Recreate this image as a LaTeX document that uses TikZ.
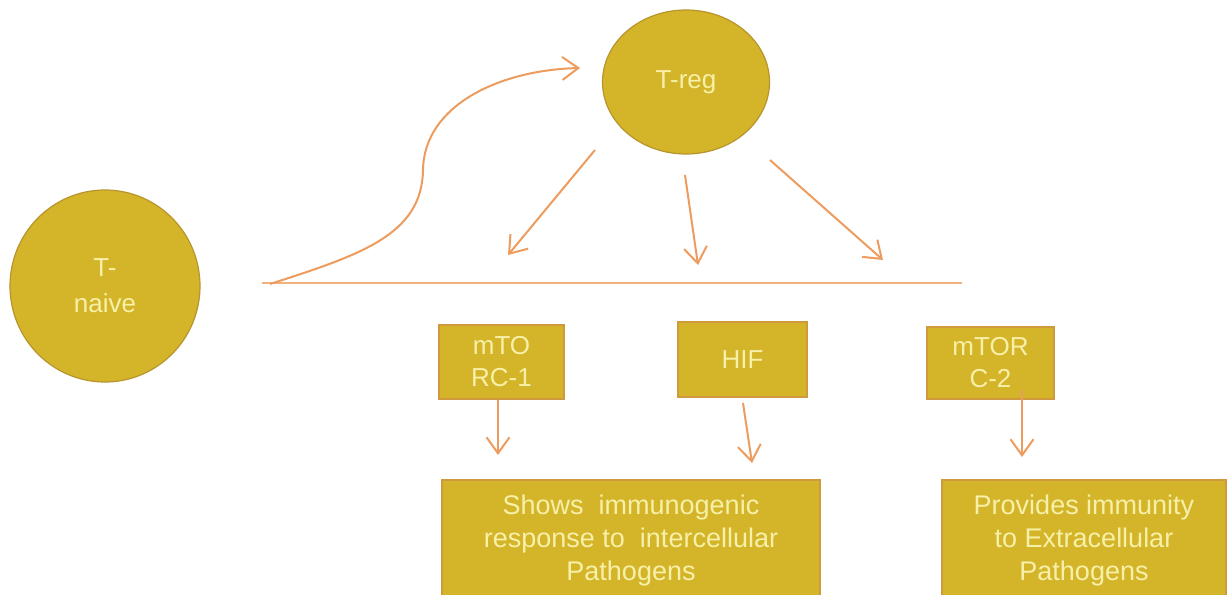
\documentclass[tikz,border=0pt]{standalone}
\usepackage{fontspec}
\setmainfont{Liberation Sans}
\usetikzlibrary{shapes.geometric,arrows.meta}
\definecolor{cellfill}{HTML}{D4B429}
\definecolor{cellline}{HTML}{B8952C}
\definecolor{boxline}{HTML}{CF9A3E}
\definecolor{celltext}{HTML}{F7F0A8}
\definecolor{arr}{HTML}{EE9C5E}
\definecolor{baseline}{HTML}{F0B27A}
\begin{document}
\begin{tikzpicture}[x=1pt,y=-1pt,
  cell/.style={ellipse,fill=cellfill,draw=cellline,line width=1.2pt,inner sep=0pt,
    text=celltext,align=center,font=\fontsize{26}{36}\selectfont},
  factor/.style={rectangle,fill=cellfill,draw=boxline,line width=1.2pt,inner sep=0pt,
    text=celltext,align=center,font=\fontsize{26}{32}\selectfont},
  outcome/.style={factor,font=\fontsize{27}{33}\selectfont},
  link/.style={draw=arr,line width=2pt,-{Straight Barb[length=16pt,width=23pt,line width=2pt]}}]
\useasboundingbox (0,0) rectangle (1228,594);
\clip (0,0) rectangle (1228,594);
\fill[white] (0,0) rectangle (1228,594);

% cells
\node[cell,minimum width=190pt,minimum height=192pt] (tnaive) at (105,286) {T-\\naive};
\node[cell,minimum width=167pt,minimum height=144pt] (treg) at (686,82) {T-reg};

% factors
\node[factor,minimum width=125pt,minimum height=74pt] (m1) at (501.5,362) {mTO\\RC-1};
\node[factor,minimum width=129pt,minimum height=75pt] (hif) at (742.5,359.5) {HIF};
\node[factor,minimum width=127pt,minimum height=72pt] (m2) at (990.5,363) {mTOR\\C-2};

% outcomes
\node[outcome,minimum width=378pt,minimum height=122pt] (r1) at (631,541)
  {Shows\ \ immunogenic\\response to\ \ intercellular\\Pathogens};
\node[outcome,minimum width=284pt,minimum height=122pt] (r2) at (1084,541)
  {Provides immunity\\to Extracellular\\Pathogens};

% baseline and curve
\coordinate (hl1) at (262,283);
\coordinate (hl2) at (962,283);
\draw[draw=baseline,line width=2.5pt] (hl1) -- (hl2);

\coordinate (cs) at (270,284);
\coordinate (cm) at (423,170);
\coordinate (ce) at (580,68);
\draw[link] (cs) .. controls (360,255) and (422,235) .. (cm)
            .. controls (424,105) and (500,70) .. (ce);

% arrows from T-reg
\coordinate (a1s) at (595,150); \coordinate (a1e) at (508,255);
\coordinate (a2s) at (685,175); \coordinate (a2e) at (698,265);
\coordinate (a3s) at (770,160); \coordinate (a3e) at (883,260);
\draw[link] (a1s) -- (a1e);
\draw[link] (a2s) -- (a2e);
\draw[link] (a3s) -- (a3e);

% arrows from factors
\coordinate (b1e) at (498,455);
\draw[link] (m1.south -| b1e) -- (b1e);
\coordinate (b2s) at (743,403); \coordinate (b2e) at (752,463);
\draw[link] (b2s) -- (b2e);
\coordinate (b3s) at (1022,390); \coordinate (b3e) at (1022,457);
\draw[link] (b3s) -- (b3e);
\end{tikzpicture}
\end{document}
